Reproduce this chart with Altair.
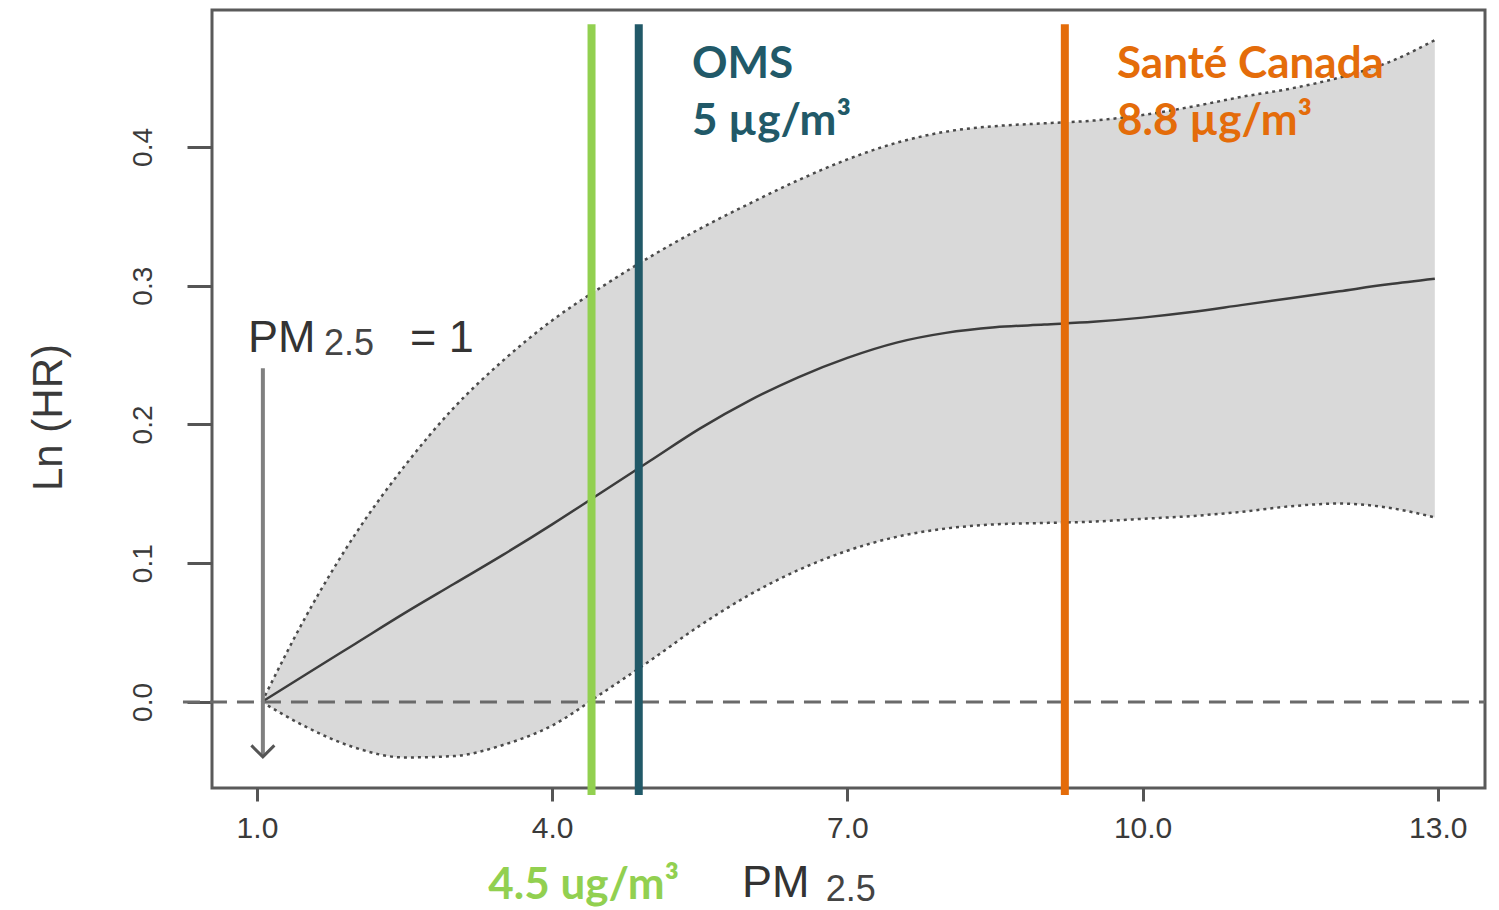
import altair as alt
import pandas as pd

# ---- data ----
pm = [1.05, 1.5, 2.0, 2.5, 3.0, 3.5, 4.0, 4.5, 5.0, 5.5, 6.0, 6.5, 7.0, 7.5,
      8.0, 8.5, 9.0, 9.5, 10.0, 10.5, 11.0, 11.5, 12.0, 12.5, 12.97]
fit = [0.0, 0.020, 0.042, 0.064, 0.085, 0.106, 0.128, 0.151, 0.174, 0.197,
       0.217, 0.234, 0.248, 0.259, 0.266, 0.270, 0.272, 0.274, 0.277, 0.281,
       0.286, 0.291, 0.296, 0.301, 0.305]
upper = [0.0, 0.062, 0.121, 0.170, 0.212, 0.246, 0.275, 0.299, 0.321, 0.341,
         0.359, 0.376, 0.391, 0.403, 0.411, 0.415, 0.417, 0.419, 0.423, 0.429,
         0.436, 0.442, 0.450, 0.461, 0.477]
lower = [0.0, -0.018, -0.033, -0.040, -0.039, -0.031, -0.017, 0.006, 0.030,
         0.055, 0.077, 0.095, 0.109, 0.119, 0.125, 0.128, 0.129, 0.130, 0.132,
         0.134, 0.137, 0.141, 0.143, 0.140, 0.133]

x_ticks = [1, 4, 7, 10, 13]
y_ticks = [0.0, 0.1, 0.2, 0.3, 0.4]

guide_x = [4.40, 4.88, 9.21]
guide_color = ["#92D050", "#215968", "#E46C0A"]

ref_x = 1.06          # PM2.5 = 1 reference arrow
x_dom = [0.543, 13.48]
y_dom = [-0.062, 0.4987]

# ---- tables ----
df = pd.DataFrame({"pm": pm, "fit": fit, "upper": upper, "lower": lower})
guides = pd.DataFrame({"x": guide_x, "y": [-0.067] * 3, "y2": [0.4885] * 3,
                       "c": guide_color})
zero = pd.DataFrame({"x": [0.248], "x2": [x_dom[1]], "y": [0.0]})
arrow = pd.DataFrame({"x": [ref_x], "y": [0.2406], "y2": [-0.0396]})

guide_text = pd.DataFrame({
    "t": ["OMS", "5 µg/m³", "Santé Canada", "8.8 µg/m³", "4.5 ug/m³"],
    "x": [5.42, 5.42, 9.74, 9.74, 3.35],
    "y": [0.4496, 0.4085, 0.4496, 0.4085, -0.142],
    "c": ["#215968", "#215968", "#E46C0A", "#E46C0A", "#92D050"],
})
big_text = pd.DataFrame({"t": ["PM", "= 1", "PM"],
                         "x": [0.909, 2.555, 5.93],
                         "y": [0.2523, 0.2523, -0.1405]})
sub_text = pd.DataFrame({"t": ["2.5", "2.5"], "x": [1.68, 6.78],
                         "y": [0.2500, -0.1434]})

xs = alt.Scale(domain=x_dom, nice=False, zero=False)
ys = alt.Scale(domain=y_dom, nice=False, zero=False)

LBL = "#3a3a3a"
RF = "Liberation Sans"

x_axis = alt.Axis(values=x_ticks, format=".1f", title=None, grid=False,
                  domain=False, tickSize=13, tickWidth=3, tickColor="#555",
                  labelFont=RF, labelFontSize=30, labelColor=LBL,
                  labelPadding=12)
y_axis = alt.Axis(values=y_ticks, format=".1f", title="Ln (HR)", grid=False,
                  domain=False, tickSize=25, tickWidth=3, tickColor="#555",
                  labelFont=RF, labelFontSize=28, labelColor=LBL,
                  labelAngle=270, labelAlign="center", labelBaseline="bottom",
                  labelPadding=30,
                  titleFont=RF, titleFontSize=42, titleColor=LBL,
                  titleFontWeight="normal", titleAngle=270,
                  titleAlign="center", titleBaseline="middle",
                  titleX=-164, titleY=407)

base = alt.Chart(df)

band = base.mark_area(color="#D9D9D9", interpolate="monotone").encode(
    x=alt.X("pm:Q", scale=xs, axis=x_axis),
    y=alt.Y("lower:Q", scale=ys, axis=y_axis),
    y2="upper:Q",
)

edges = base.transform_fold(["upper", "lower"], as_=["k", "v"]).mark_line(
    color="#4a4a4a", strokeWidth=2.5, strokeDash=[3, 4], interpolate="monotone"
).encode(x=alt.X("pm:Q", scale=xs), y=alt.Y("v:Q", scale=ys), detail="k:N")

line = base.mark_line(color="#3c3c3c", strokeWidth=2.5,
                      interpolate="monotone").encode(
    x=alt.X("pm:Q", scale=xs), y=alt.Y("fit:Q", scale=ys))

zero_rule = alt.Chart(zero).mark_rule(color="#6a6a6a", strokeWidth=3,
                                      strokeDash=[17, 10]).encode(
    x=alt.X("x:Q", scale=xs), x2="x2:Q", y=alt.Y("y:Q", scale=ys))

arrow_line = alt.Chart(arrow).mark_rule(color="#808080", strokeWidth=4).encode(
    x=alt.X("x:Q", scale=xs), y=alt.Y("y:Q", scale=ys), y2="y2:Q")
arrow_head = alt.Chart(arrow).mark_point(
    shape="M-1,-1L0,0L1,-1", filled=False, size=529, strokeWidth=3,
    color="#555", opacity=1).encode(
    x=alt.X("x:Q", scale=xs), y=alt.Y("y2:Q", scale=ys))

guide_rules = alt.Chart(guides).mark_rule(strokeWidth=8).encode(
    x=alt.X("x:Q", scale=xs), y=alt.Y("y:Q", scale=ys), y2="y2:Q",
    color=alt.Color("c:N", scale=None))

g_text = alt.Chart(guide_text).mark_text(
    font="Lato", fontWeight="bold", fontSize=44, align="left",
    baseline="alphabetic").encode(
    x=alt.X("x:Q", scale=xs), y=alt.Y("y:Q", scale=ys), text="t:N",
    color=alt.Color("c:N", scale=None))

b_text = alt.Chart(big_text).mark_text(
    font=RF, fontSize=45, align="left", baseline="alphabetic",
    color="#333").encode(
    x=alt.X("x:Q", scale=xs), y=alt.Y("y:Q", scale=ys), text="t:N")

s_text = alt.Chart(sub_text).mark_text(
    font=RF, fontSize=36, align="left", baseline="alphabetic",
    color="#444").encode(
    x=alt.X("x:Q", scale=xs), y=alt.Y("y:Q", scale=ys), text="t:N")

chart = alt.layer(
    band, edges, line, zero_rule, arrow_line, arrow_head, guide_rules,
    g_text, b_text, s_text
).properties(
    width=1273, height=778,
    background="white",
    autosize=alt.AutoSizeParams(type="none"),
    padding={"left": 204, "top": 2, "right": 6, "bottom": 120},
).configure_view(stroke="#5a5a5a", strokeWidth=3)

chart.save("out.html", embed_options={"renderer": "svg", "actions": False})
